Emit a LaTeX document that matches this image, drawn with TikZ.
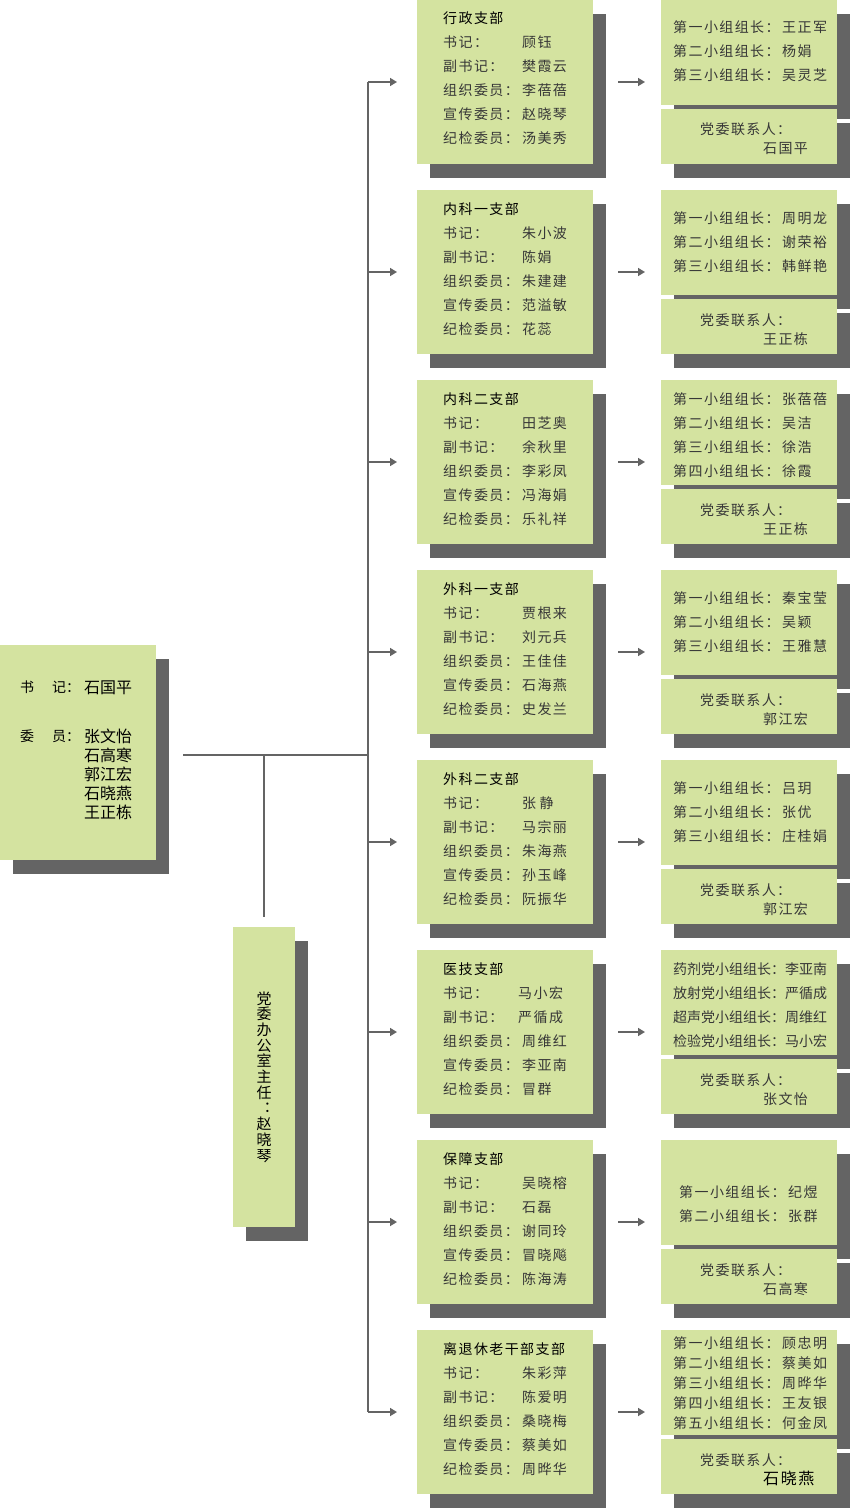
\documentclass[tikz,border=0pt]{standalone}
\usepackage{fontspec}
\usepackage{graphicx}
\usepackage{xcolor}
\usetikzlibrary{shadows,positioning,arrows.meta}
\newfontfamily\cjk[LetterSpace=10]{Noto Sans CJK SC}
\newfontfamily\cjktight{Noto Sans CJK SC}
\newfontfamily\cjkplain{Noto Sans CJK SC}
\definecolor{leafGreen}{RGB}{212,227,160}
\definecolor{shadowGray}{RGB}{100,100,100}
\definecolor{inkGray}{RGB}{55,55,55}
\tikzset{party-box/.style={fill=leafGreen, inner sep=0pt, outer sep=0pt, anchor=north west,
    drop shadow={shadow xshift=13pt, shadow yshift=-14pt, fill=shadowGray, opacity=1}}}
\tikzset{branch-box/.style={party-box, minimum width=176pt, minimum height=164pt}}
\tikzset{group-box/.style={party-box, minimum width=176pt, minimum height=105pt}}
\tikzset{contact-box/.style={party-box, minimum width=176pt, minimum height=55pt}}
\tikzset{linegap/.style={execute at begin node={\fontsize{14}{#1}\selectfont}}}
\tikzset{party-text/.style={anchor=base west, inner sep=0pt, text width=170pt, align=left,
    font=\cjk, text=inkGray, linegap=24pt}}
\tikzset{member-text/.style={party-text, font=\cjkplain, text=black,
    execute at begin node={\fontsize{16}{19}\selectfont}}}
\tikzset{link/.style={draw=shadowGray, line width=1.6pt}}
\tikzset{>={Triangle[length=7pt,width=8pt]}}

\newcommand{\field}[3][79pt]{\makebox[#1][l]{#2}#3}
% one branch: id, top, branch lines, group text options, group lines, contact
\newcommand{\partyrow}[6]{%
  \node[branch-box] (br#1) at (417,#2) {};
  \node[party-text] (brt#1) at ([xshift=26pt,yshift=-24pt]br#1.north west) {#3};
  \node[group-box] (grp#1) at ([xshift=68pt]br#1.north east) {};
  \node[party-text, xshift=12pt, yshift=-33pt, #4] (grpt#1) at (grp#1.north west) {#5};
  \node[contact-box, below=4pt of grp#1] (ct#1) {};
  \node[party-text, linegap=19pt] (ctt#1) at ([xshift=39pt,yshift=-26pt]ct#1.north west)
    {党委联系人：\\\hspace*{63pt}#6};
  \draw[link, ->] (trunk |- br#1.west) -- ([xshift=-20pt]br#1.west);
  \draw[link, ->] ([xshift=25pt]br#1.east) -- ([xshift=52pt]br#1.east);
}

\begin{document}
\begin{tikzpicture}[x=1pt, y=-1pt]
  \useasboundingbox (0,0) rectangle (850,1509);

  % party committee
  \node[party-box, minimum width=156pt, minimum height=215pt] (committee) at (0,645) {};
  \node[party-text, font=\cjkplain, text=black] (sj-label) at (20,692) {书\hspace{18pt}记：};
  \node[member-text] (sj-name) at (84,693) {石国平};
  \node[party-text, font=\cjkplain, text=black] (wy-label) at (20,741) {委\hspace{18pt}员：};
  \node[member-text] (wy-names) at (84,742) {张文怡\\石高寒\\郭江宏\\石晓燕\\王正栋};

  % office
  \node[party-box, minimum width=62pt, minimum height=300pt] (office) at (233,927) {};
  \node[font=\cjkplain, text=black, inner sep=0pt, text width=18pt, align=center,
    execute at begin node={\fontsize{15}{15.7}\selectfont}] (office-text) at (office.center)
    {党\\委\\办\\公\\室\\主\\任\\︓\\赵\\晓\\琴};

  \coordinate (trunk) at (368,755);
  \coordinate (hubL) at (183,755);

  \partyrow{1}{0}{\textcolor{black}{行政支部}\\\field{书记：}{顾钰}\\\field{副书记：}{樊霞云}\\\field{组织委员：}{李蓓蓓}\\\field{宣传委员：}{赵晓琴}\\\field{纪检委员：}{汤美秀}}
    {}{\field[109pt]{第一小组组长：}{王正军}\\\field[109pt]{第二小组组长：}{杨娟}\\\field[109pt]{第三小组组长：}{吴灵芝}}{石国平}
  \partyrow{2}{190}{\textcolor{black}{内科一支部}\\\field{书记：}{朱小波}\\\field{副书记：}{陈娟}\\\field{组织委员：}{朱建建}\\\field{宣传委员：}{范溢敏}\\\field{纪检委员：}{花蕊}}
    {}{\field[109pt]{第一小组组长：}{周明龙}\\\field[109pt]{第二小组组长：}{谢荣裕}\\\field[109pt]{第三小组组长：}{韩鲜艳}}{王正栋}
  \partyrow{3}{380}{\textcolor{black}{内科二支部}\\\field{书记：}{田芝奥}\\\field{副书记：}{余秋里}\\\field{组织委员：}{李彩凤}\\\field{宣传委员：}{冯海娟}\\\field{纪检委员：}{乐礼祥}}
    {yshift=9pt}{\field[109pt]{第一小组组长：}{张蓓蓓}\\\field[109pt]{第二小组组长：}{吴洁}\\\field[109pt]{第三小组组长：}{徐浩}\\\field[109pt]{第四小组组长：}{徐霞}}{王正栋}
  \partyrow{4}{570}{\textcolor{black}{外科一支部}\\\field{书记：}{贾根来}\\\field{副书记：}{刘元兵}\\\field{组织委员：}{王佳佳}\\\field{宣传委员：}{石海燕}\\\field{纪检委员：}{史发兰}}
    {}{\field[109pt]{第一小组组长：}{秦宝莹}\\\field[109pt]{第二小组组长：}{吴颖}\\\field[109pt]{第三小组组长：}{王雅慧}}{郭江宏}
  \partyrow{5}{760}{\textcolor{black}{外科二支部}\\\field{书记：}{张\ 静}\\\field{副书记：}{马宗丽}\\\field{组织委员：}{朱海燕}\\\field{宣传委员：}{孙玉峰}\\\field{纪检委员：}{阮振华}}
    {}{\field[109pt]{第一小组组长：}{吕玥}\\\field[109pt]{第二小组组长：}{张优}\\\field[109pt]{第三小组组长：}{庄桂娟}}{郭江宏}
  \partyrow{6}{950}{\textcolor{black}{医技支部}\\\field[75pt]{书记：}{马小宏}\\\field[75pt]{副书记：}{严循成}\\\field{组织委员：}{周维红}\\\field{宣传委员：}{李亚南}\\\field{纪检委员：}{冒群}}
    {yshift=9pt, font=\cjktight}{\field[112pt]{药剂党小组组长：}{李亚南}\\\field[112pt]{放射党小组组长：}{严循成}\\\field[112pt]{超声党小组组长：}{周维红}\\\field[112pt]{检验党小组组长：}{马小宏}}{张文怡}
  \partyrow{7}{1140}{\textcolor{black}{保障支部}\\\field{书记：}{吴晓榕}\\\field{副书记：}{石磊}\\\field{组织委员：}{谢同玲}\\\field{宣传委员：}{冒晓飚}\\\field{纪检委员：}{陈海涛}}
    {xshift=6pt, yshift=-24pt}{\field[109pt]{第一小组组长：}{纪煜}\\\field[109pt]{第二小组组长：}{张群}}{石高寒}
  \partyrow{8}{1330}{\textcolor{black}{离退休老干部支部}\\\field{书记：}{朱彩萍}\\\field{副书记：}{陈爱明}\\\field{组织委员：}{桑晓梅}\\\field{宣传委员：}{蔡美如}\\\field{纪检委员：}{周晔华}}
    {yshift=15pt, linegap=20pt}{\field[109pt]{第一小组组长：}{顾忠明}\\\field[109pt]{第二小组组长：}{蔡美如}\\\field[109pt]{第三小组组长：}{周晔华}\\\field[109pt]{第四小组组长：}{王友银}\\\field[109pt]{第五小组组长：}{何金凤}}{\textcolor{black}{\fontsize{16}{16}\selectfont 石晓燕}}

  % connectors
  \draw[link] (trunk |- br1.west) -- (trunk |- br8.west);
  \draw[link] (hubL) -- (trunk);
  \draw[link] (trunk -| office.north) -- ([yshift=10pt]office.north);
\end{tikzpicture}
\end{document}
